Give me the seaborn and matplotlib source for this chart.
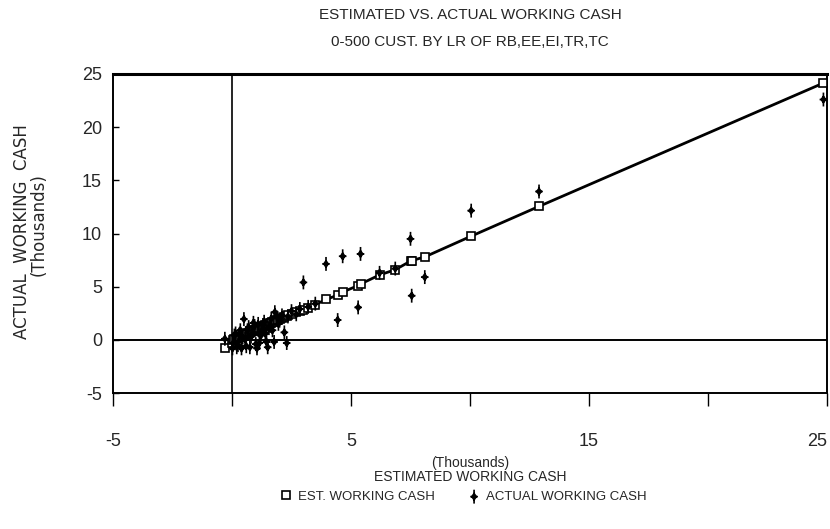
import numpy as np
import pandas as pd
import seaborn as sns
import matplotlib
matplotlib.use("Agg")
import matplotlib.pyplot as plt
from matplotlib.path import Path

# ---- data (thousands) ----
est_x = [-0.3, 0.02, 0.05, 0.1, 0.15, 0.2, 0.25, 0.3, 0.35, 0.4, 0.45, 0.5, 0.55,
         0.6, 0.65, 0.7, 0.75, 0.8, 0.85, 0.9, 0.95, 1.0, 1.05, 1.1, 1.15, 1.2,
         1.25, 1.3, 1.35, 1.4, 1.45, 1.5, 1.55, 1.6, 1.65, 1.7, 1.77, 1.8, 1.9,
         1.95, 2.0, 2.1, 2.2, 2.3, 2.35, 2.5, 2.7, 2.85,
         3.0, 3.2, 3.5, 3.95, 4.44, 4.65, 5.3, 5.4, 6.2, 6.86, 7.5, 7.55, 8.1, 10.05,
         12.9, 24.85]
est_y = [-0.8, -0.3, 0.0, 0.05, 0.1, 0.15, 0.2, 0.25, 0.3, 0.35, 0.4, 0.5, 0.5,
         0.55, 0.6, 0.65, 0.7, 0.75, 0.8, 0.85, 0.9, 0.95, 1.0, 1.05, 1.1, 1.15,
         1.2, 1.25, 1.3, 1.35, 1.4, 1.45, 1.5, 1.55, 1.6, 1.65, 1.7, 1.75, 1.85,
         1.9, 1.95, 2.05, 2.15, 2.2, 2.3, 2.45, 2.6, 2.75,
         2.8, 3.0, 3.3, 3.8, 4.2, 4.5, 5.1, 5.25, 6.1, 6.6, 7.4, 7.45, 7.8, 9.75,
         12.55, 24.15]
actual_y = [0.1, -0.8, -0.3, 0.4, 0.6, -0.7, -0.5, 0.5, 0.9, -0.8, 0.2, 1.95, 0.1,
            -0.6, 0.9, 1.2, -0.7, 0.3, 0.6, 1.6, 1.3, -0.4, -0.8, 1.5, -0.3, 0.4,
            0.8, 1.4, 1.7, 0.6, -0.2, -0.7, 1.1, 1.3, 2.0, 0.9, -0.2, 2.6, 2.1,
            1.5, 1.8, 2.3, 0.7, -0.3, 2.2, 2.7, 2.4, 2.9,
            5.4, 3.1, 3.4, 7.14, 1.86, 7.86, 3.05, 8.08, 6.3, 6.7, 9.5, 4.15, 5.9, 12.15,
            13.95, 22.6]

x_ticks = [-5, 0, 5, 10, 15, 20, 25]
x_ticklabels = ["-5", "", "5", "", "15", "", "25"]
y_ticks = [-5, 0, 5, 10, 15, 20, 25]
y_ticklabels = ["-5", "0", "5", "10", "15", "20", "25"]

df_est = pd.DataFrame({"x": est_x, "y": est_y})
df_act = pd.DataFrame({"x": est_x, "y": actual_y})

sns.set_theme(style="white")
FONT = ["Liberation Sans", "DejaVu Sans"]
plt.rcParams["font.family"] = FONT

fig = plt.figure(figsize=(8.30, 5.29), dpi=100)
ax = fig.add_axes([113/830, 1-393/529, 714/830, 319/529])

# custom "diamond plus" marker
verts = [(0, -1), (0, 1), (-0.55, 0), (0.55, 0),
         (0, -0.45), (0.32, 0), (0, 0.45), (-0.32, 0), (0, -0.45)]
codes = [Path.MOVETO, Path.LINETO, Path.MOVETO, Path.LINETO,
         Path.MOVETO, Path.LINETO, Path.LINETO, Path.LINETO, Path.CLOSEPOLY]
plusdiamond = Path(verts, codes)

ax.axhline(0, color="black", lw=1.4, zorder=1)
ax.axvline(0, color="black", lw=1.2, zorder=1)

sns.lineplot(data=df_est, x="x", y="y", ax=ax, color="black", lw=2.0,
             marker="s", markersize=6, markerfacecolor="white",
             markeredgecolor="black", markeredgewidth=1.2, sort=True,
             estimator=None, zorder=3, label="EST. WORKING CASH")
sns.scatterplot(data=df_act, x="x", y="y", ax=ax, marker=plusdiamond, s=100,
                facecolor="none", edgecolor="black", linewidth=1.2, zorder=4,
                label="ACTUAL WORKING CASH")

ax.set_xlim(-5, 25)
ax.set_ylim(-5, 25)
ax.set_xticks(x_ticks)
ax.set_xticklabels(x_ticklabels, fontsize=13)
ax.get_xticklabels()[-1].set_horizontalalignment("right")
ax.set_yticks(y_ticks)
ax.set_yticklabels(y_ticklabels, fontsize=13)
ax.tick_params(axis="x", direction="out", length=9, width=1, color="black", pad=20)
ax.tick_params(axis="y", direction="in", length=4, width=1, color="black", pad=8)
ax.tick_params(axis="y", left=True)
ax.tick_params(axis="x", bottom=True)
for s in ax.spines.values():
    s.set_color("black")
    s.set_linewidth(1.4)
ax.spines["top"].set_linewidth(2.2)

ax.set_xlabel("(Thousands)\nESTIMATED WORKING CASH", fontsize=10, linespacing=1.05,
              labelpad=4)
ax.set_ylabel("")
fig.text(22/830, 1-232/529, "ACTUAL  WORKING  CASH", rotation=90,
         ha="center", va="center", fontsize=12, family="DejaVu Sans")
fig.text(39/830, 1-225/529, "(Thousands)", rotation=90,
         ha="center", va="center", fontsize=12, family="DejaVu Sans")

fig.text(470/830, 1-15/529, "ESTIMATED VS. ACTUAL WORKING CASH", ha="center",
         va="center", fontsize=11)
fig.text(470/830, 1-42/529, "0-500 CUST. BY LR OF RB,EE,EI,TR,TC", ha="center",
         va="center", fontsize=11)

leg = ax.legend(loc="center", bbox_to_anchor=(0.49, -0.326), ncol=2, frameon=False,
                fontsize=9.5, handlelength=1.0, handletextpad=0.4, columnspacing=2.5)
for h in leg.legend_handles:
    try:
        h.set_linestyle("none")
    except Exception:
        pass

fig.savefig("out.png", dpi=100, facecolor="white")
